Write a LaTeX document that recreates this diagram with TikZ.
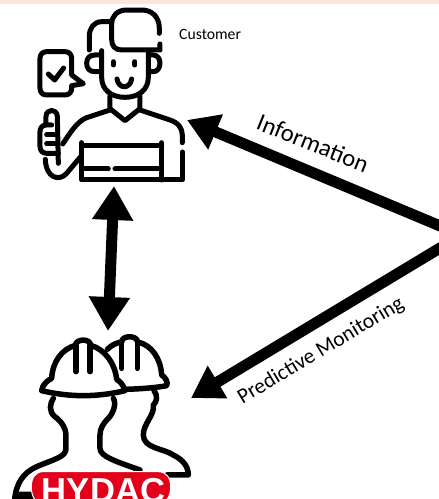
\documentclass[tikz,border=0pt]{standalone}
\usepackage{fontspec}
\setmainfont{Carlito}
\newfontfamily\logofont{Liberation Sans}
\usetikzlibrary{arrows.meta}
\definecolor{strip}{HTML}{FBE7DA}
\definecolor{logored}{HTML}{E2001A}
\tikzset{
  icon/.style={line width=12pt,line cap=round,line join=round,draw=black,fill=none},
  bigarrow/.style={line width=11pt,draw=black,-{Triangle[length=31pt,width=36pt]}},
  bigboth/.style={line width=11pt,draw=black,{Triangle[length=34pt,width=39pt]}-{Triangle[length=34pt,width=39pt]}},
  lab/.style={inner sep=0pt,text=black}
}
\begin{document}
\begin{tikzpicture}[x=1pt,y=-1pt]
\useasboundingbox (0,0) rectangle (439,499);
\clip (0,0) rectangle (439,499);
\fill[strip] (0,0) rectangle (439,3.5);

% customer icon (coordinates in zoomed units)
\begin{scope}[shift={(20,0)},x=0.3333pt,y=-0.3333pt]
\tikzset{icon/.append style={line width=5pt}}
% front hair
\draw[icon] (418,100) -- (418,85) .. controls (418,50) and (395,30) .. (365,30) -- (320,30) .. controls (292,30) and (275,48) .. (275,72) -- (275,118) .. controls (275,138) and (285,150) .. (305,150) -- (420,150) -- (420,132);
% back hair
\draw[icon] (275,65) -- (245,65) .. controls (222,65) and (208,85) .. (208,108) -- (208,150);
% face
\draw[icon] (245,152) -- (245,232) .. controls (245,270) and (275,292) .. (315,292) .. controls (355,292) and (385,270) .. (385,232) -- (385,152);
% ears
\draw[icon] (238,165) -- (225,165) .. controls (208,165) and (200,175) .. (200,190) .. controls (200,205) and (208,215) .. (225,215) -- (240,215);
\draw[icon] (392,165) -- (400,165) .. controls (413,165) and (420,177) .. (420,190) .. controls (420,203) and (413,215) .. (400,215) -- (390,215);
% eyes and smile
\draw[icon] (280,185) -- (280,195);
\draw[icon] (345,185) -- (345,195);
\draw[icon] (291,237) .. controls (296,268) and (330,268) .. (335,237);
% neck and collar
\draw[icon] (270,288) -- (270,326) -- (315,362) -- (360,326) -- (360,288);
% shoulders
\draw[icon] (270,330) -- (200,353) .. controls (170,365) and (150,400) .. (128,432);
\draw[icon] (360,330) -- (450,360) .. controls (475,368) and (487,385) .. (487,405) -- (487,428);
\draw[icon] (487,456) -- (487,540) -- (185,540) -- (185,428);
% apron
\draw[icon] (185,437) -- (425,437);
\draw[icon] (425,428) -- (425,540);
\draw[icon] (190,507) -- (265,507);
\draw[icon] (285,507) -- (415,507);
% arm and hand
\draw[icon] (182,470) -- (140,520) .. controls (118,545) and (78,535) .. (76,478);
\draw[icon] (78,375) -- (78,350) .. controls (78,325) and (112,325) .. (112,350) -- (115,490);
\draw[icon] (115,460) -- (80,460) .. controls (68,460) and (60,452) .. (60,440) -- (60,395) .. controls (60,383) and (68,375) .. (78,375) -- (95,375);
\draw[icon] (80,405) -- (110,405);
\draw[icon] (80,432) -- (112,432);
% speech bubble
\draw[icon] (155,225) -- (155,175) .. controls (155,163) and (147,155) .. (135,155) -- (80,155) .. controls (68,155) and (60,163) .. (60,175) -- (60,265) .. controls (60,277) and (68,285) .. (80,285) -- (135,285) .. controls (147,285) and (155,277) .. (155,265) -- (155,257) -- (190,251) -- cycle;
\draw[icon] (85,222) -- (104,240) -- (131,204);
\end{scope}

% worker icon (coordinates in zoomed units)
\begin{scope}[shift={(0,320)},x=0.3333pt,y=-0.3333pt]
\tikzset{icon/.append style={line width=5.5pt}}
% rear helmet
\draw[icon] (322,88) .. controls (335,75) and (350,68) .. (365,66) .. controls (365,45) and (412,45) .. (413,66) .. controls (455,75) and (482,115) .. (485,165) .. controls (497,172) and (505,188) .. (500,197) .. controls (470,203) and (420,207) .. (375,208);
\draw[icon] (365,66) -- (365,145);
\draw[icon] (412,66) -- (412,145);
% front helmet
\draw[icon] (125,212) .. controls (210,232) and (290,232) .. (375,212) .. controls (372,198) and (360,183) .. (350,178) .. controls (345,130) and (315,88) .. (272,76) .. controls (272,55) and (228,55) .. (226,76) .. controls (185,88) and (158,125) .. (155,175) .. controls (140,183) and (127,195) .. (125,212) -- cycle;
\draw[icon] (228,76) -- (228,155);
\draw[icon] (270,76) -- (270,155);
% front body
\draw[icon] (160,235) .. controls (150,250) and (145,275) .. (165,290) .. controls (185,305) and (198,325) .. (198,345) -- (198,385) .. controls (198,410) and (170,415) .. (110,440) .. controls (70,458) and (48,490) .. (44,540);
\draw[icon] (340,235) .. controls (350,250) and (340,280) .. (325,295) .. controls (310,310) and (300,325) .. (300,345) -- (300,385) .. controls (300,410) and (350,425) .. (420,450);
% rear body
\draw[icon] (462,212) .. controls (475,230) and (470,245) .. (460,255) .. controls (465,285) and (430,310) .. (430,345) .. controls (430,385) and (490,385) .. (520,405) .. controls (550,420) and (565,440) .. (565,465) -- (500,465);
% logo
\fill[black] (40,540) -- (58,515) -- (110,515) -- (110,540) -- cycle;
\fill[logored,draw=white,line width=1pt] (130,455) -- (475,455) .. controls (500,455) and (512,475) .. (512,500) .. controls (512,530) and (500,545) .. (475,560) -- (130,560) .. controls (105,545) and (94,530) .. (94,500) .. controls (94,475) and (105,455) .. (130,455) -- cycle;
\end{scope}
\node[lab,anchor=base,font=\logofont\bfseries\fontsize{34.6}{34.6}\selectfont,text=white] (logo) at (103.5,502) {HYDAC};

% connector ends
\coordinate (cust) at (187,120);
\coordinate (custb) at (114,186);
\coordinate (work) at (191,398);
\coordinate (workt) at (108,331);
\coordinate (hubi) at (445,228);
\coordinate (hubp) at (445,245);
\draw[bigarrow] (hubi) -- (cust);
\draw[bigarrow] (hubp) -- (work);
\draw[bigboth] (custb) -- (workt);

% labels
\node[lab,anchor=west,font=\fontsize{15.7}{15.7}\selectfont] (customer) at (179,34.5) {Customer};
\node[lab,rotate=-22,font=\fontsize{24.5}{24.5}\selectfont] (information) at (313,143) {Information};
\node[lab,rotate=31,font=\fontsize{21.5}{21.5}\selectfont] (predictive) at (321,351) {Predictive Monitoring};
\end{tikzpicture}
\end{document}
